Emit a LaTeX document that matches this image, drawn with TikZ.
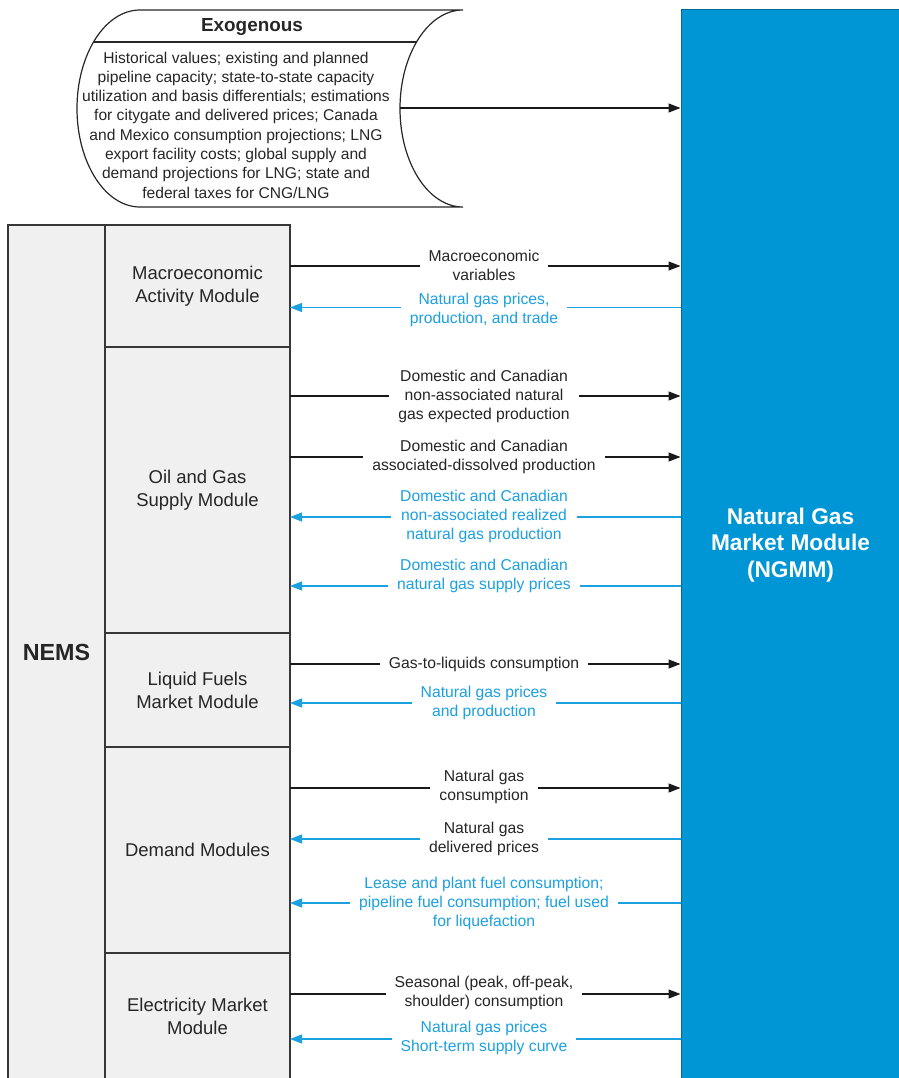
\documentclass[tikz,border=0pt]{standalone}
\usepackage{fontspec}
\setmainfont{Liberation Sans}
\usetikzlibrary{arrows.meta}
\definecolor{ngmmblue}{RGB}{0,150,214}
\definecolor{flowblue}{RGB}{27,160,224}
\definecolor{nemsgray}{RGB}{240,240,240}
\definecolor{edgegray}{RGB}{55,55,55}
\tikzset{
  module/.style={draw=edgegray, line width=1.2pt, fill=nemsgray, align=center,
    font=\fontsize{18.5}{23}\selectfont, text=black!85, inner sep=0pt,
    minimum width=185pt},
  tongmm/.style={line width=1.2pt, black!90, -{Triangle[length=12pt,width=9pt]}},
  fromngmm/.style={line width=1.2pt, flowblue, -{Triangle[length=12pt,width=9pt]}},
  flowlabel/.style={fill=white, align=center, inner xsep=9pt, inner ysep=1pt,
    text=black!85, font=\fontsize{15.7}{19}\selectfont},
  bluelabel/.style={flowlabel, text=flowblue},
}

\begin{document}
\begin{tikzpicture}[x=1pt,y=-1pt]
  \useasboundingbox (0,0) rectangle (898,1078);

  % exogenous inputs
  \draw [line width=1.2pt, black!85] (140,10) -- (463,10)
    arc [start angle=-90, end angle=-270, x radius=63, y radius=98.5]
    -- (140,207)
    arc [start angle=90, end angle=270, x radius=63, y radius=98.5];
  \draw [line width=1.2pt, black!85] (93.5,42) -- (416.5,42);
  \node [font=\bfseries\fontsize{18.9}{22}\selectfont, text=black!85] (exotitle) at (252,27) {Exogenous};
  \node [align=center, font=\fontsize{15.6}{19.3}\selectfont, text=black!85, inner sep=0pt] (exobody) at (236,125)
    {Historical values; existing and planned\\pipeline capacity; state-to-state capacity\\utilization and basis differentials; estimations\\for citygate and delivered prices; Canada\\and Mexico consumption projections; LNG\\export facility costs; global supply and\\demand projections for LNG; state and\\federal taxes for CNG/LNG};

  % NGMM
  \node [draw=ngmmblue!70!black, line width=1pt, fill=ngmmblue, minimum width=219pt, minimum height=1070pt,
    align=center, text=white, font=\bfseries\fontsize{22.7}{26.5}\selectfont] (ngmm) at (790.5,545)
    {Natural Gas\\Market Module\\(NGMM)};

  % NEMS and its modules
  \node [module, minimum width=97pt, minimum height=855pt, font=\bfseries\fontsize{23.3}{26}\selectfont] (nems) at (56.5,652.5) {NEMS};
  \node [module, minimum height=122pt] (macro) at (197.5,286) {Macroeconomic\\Activity Module};
  \node [module, minimum height=286pt] (oil) at (197.5,490) {Oil and Gas\\Supply Module};
  \node [module, minimum height=114pt] (liquid) at (197.5,690) {Liquid Fuels\\Market Module};
  \node [module, minimum height=206pt] (demand) at (197.5,850) {Demand Modules};
  \node [module, minimum height=127pt] (elec) at (197.5,1016.5) {Electricity Market\\Module};

  % arrow rows
  \coordinate (exo) at (400,108);
  \coordinate (r1) at (290,266);
  \coordinate (r2) at (290,307.5);
  \coordinate (r3) at (290,396);
  \coordinate (r4) at (290,457);
  \coordinate (r5) at (290,517);
  \coordinate (r6) at (290,586);
  \coordinate (r7) at (290,664);
  \coordinate (r8) at (290,703);
  \coordinate (r9) at (290,788);
  \coordinate (r10) at (290,839);
  \coordinate (r11) at (290,903);
  \coordinate (r12) at (290,994);
  \coordinate (r13) at (290,1039);

  \draw [tongmm] (exo) -- (exo -| ngmm.west);
  \draw [tongmm] (r1) -- (r1 -| ngmm.west);
  \draw [fromngmm] (r2 -| ngmm.west) -- (r2);
  \draw [tongmm] (r3) -- (r3 -| ngmm.west);
  \draw [tongmm] (r4) -- (r4 -| ngmm.west);
  \draw [fromngmm] (r5 -| ngmm.west) -- (r5);
  \draw [fromngmm] (r6 -| ngmm.west) -- (r6);
  \draw [tongmm] (r7) -- (r7 -| ngmm.west);
  \draw [fromngmm] (r8 -| ngmm.west) -- (r8);
  \draw [tongmm] (r9) -- (r9 -| ngmm.west);
  \draw [fromngmm] (r10 -| ngmm.west) -- (r10);
  \draw [fromngmm] (r11 -| ngmm.west) -- (r11);
  \draw [tongmm] (r12) -- (r12 -| ngmm.west);
  \draw [fromngmm] (r13 -| ngmm.west) -- (r13);

  % labels
  \node [flowlabel] (l1) at (484,265) {Macroeconomic\\variables};
  \node [bluelabel] (l2) at (484,309.5) {Natural gas prices,\\production, and trade};
  \node [flowlabel] (l3) at (484,396) {Domestic and Canadian\\non-associated natural\\gas expected production};
  \node [flowlabel] (l4) at (484,457) {Domestic and Canadian\\associated-dissolved production};
  \node [bluelabel] (l5) at (484,516) {Domestic and Canadian\\non-associated realized\\natural gas production};
  \node [bluelabel] (l6) at (484,576) {Domestic and Canadian\\natural gas supply prices};
  \node [flowlabel] (l7) at (484,664) {Gas-to-liquids consumption};
  \node [bluelabel] (l8) at (484,702.5) {Natural gas prices\\and production};
  \node [flowlabel] (l9) at (484,787) {Natural gas\\consumption};
  \node [flowlabel] (l10) at (484,838.5) {Natural gas\\delivered prices};
  \node [bluelabel] (l11) at (484,903) {Lease and plant fuel consumption;\\pipeline fuel consumption; fuel used\\for liquefaction};
  \node [flowlabel] (l12) at (484,992.5) {Seasonal (peak, off-peak,\\shoulder) consumption};
  \node [bluelabel] (l13) at (484,1038) {Natural gas prices\\Short-term supply curve};
\end{tikzpicture}
\end{document}
